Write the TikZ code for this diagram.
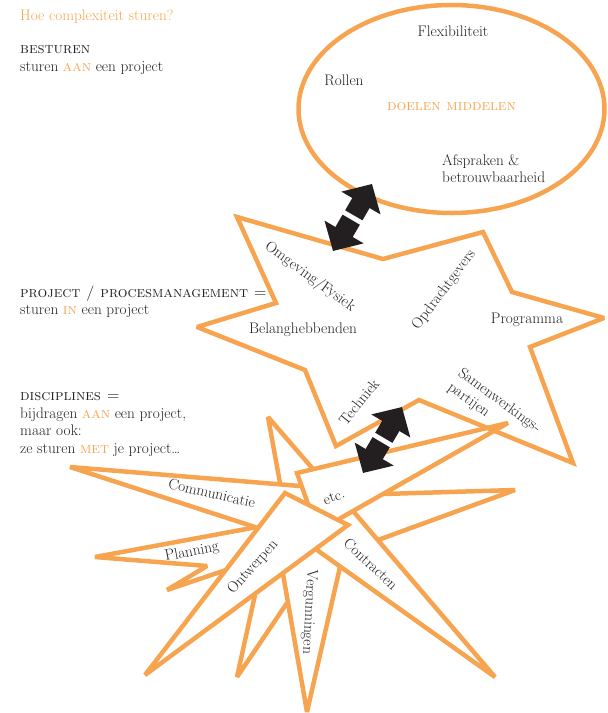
\documentclass[tikz,border=0pt]{standalone}
\usepackage{tikz}
\usetikzlibrary{arrows.meta}
\definecolor{stuurOranje}{RGB}{247,164,80}
\definecolor{stuurZwart} {RGB}{35,31,32}

\tikzset{
  lijn/.style={draw=stuurOranje,line width=4.5pt,line join=miter,miter limit=3},
  tekst/.style={text=stuurZwart,inner sep=0pt,font=\fontsize{15.3}{17.4}\selectfont},
  pijl/.style={draw=stuurZwart,line width=20pt,-{Triangle[width=44pt,length=22pt]}},
}
\newcommand{\oranje}[1]{\textcolor{stuurOranje}{\textsc{#1}}}

\begin{document}
\begin{tikzpicture}[x=1pt,y=-1pt]
  \useasboundingbox (0,0) rectangle (608,713);

  % linker kolom
  \node[tekst,text=stuurOranje,anchor=base west] (titel) at (20,20) {Hoe complexiteit sturen?};
  \node[tekst,anchor=base west] (besturen) at (20,53) {\textsc{besturen}};
  \node[tekst,anchor=base west] (besturenA) at (20,71) {sturen \oranje{aan} een project};
  \node[tekst,anchor=base west] (procesm) at (20,297) {\textsc{project / procesmanagement =}};
  \node[tekst,anchor=base west] (procesmA) at (20,314.5) {sturen \oranje{in} een project};
  \node[tekst,anchor=base west] (discipl) at (20,400.5) {\textsc{disciplines =}};
  \node[tekst,anchor=base west] (disciplA) at (20,418) {bijdragen \oranje{aan} een project,};
  \node[tekst,anchor=base west] (disciplB) at (20,435.5) {maar ook:};
  \node[tekst,anchor=base west] (disciplC) at (20,453) {ze sturen \oranje{met} je project\ldots};

  % ellips
  \draw[lijn] (451.5,109) ellipse [x radius=153, y radius=104];
  \node[tekst] (flex) at (453,31) {Flexibiliteit};
  \node[tekst] (rollen) at (344,80) {Rollen};
  \node[tekst,text=stuurOranje] (doelen) at (451.5,107) {\textsc{doelen middelen}};
  \node[tekst,anchor=base west] (afspr) at (442,165) {Afspraken \&};
  \node[tekst,anchor=base west] (betrouw) at (442,182) {betrouwbaarheid};

  % ster projectmanagement
  \draw[lijn] (237,217) -- (383,259) -- (483,232) -- (512,292) -- (604,318)
    -- (530,347) -- (573,463) -- (419,400) -- (336,446) -- (305,370)
    -- (197,327) -- (276,303) -- cycle;
  \node[tekst,rotate=-36] (omgeving) at (310,277) {Omgeving/Fysiek};
  \node[tekst] (belang) at (303,330) {Belanghebbenden};
  \node[tekst,rotate=53] (opdracht) at (444,290) {Opdrachtgevers};
  \node[tekst] (programma) at (527,320) {Programma};
  \node[tekst,rotate=51] (techniek) at (359,402) {Techniek};
  \node[tekst,rotate=-36,align=left] (samenw) at (494,408) {Samenwerkings-\\partijen};

  % ster disciplines
  \draw[lijn] (300,486) -- (70,467) -- (255,527);
  \draw[lijn] (280,483) -- (268,417) -- (313,469);
  \draw[lijn] (308,504) -- (297,473) -- (508,423) -- (339,519);
  \draw[lijn] (383,494) -- (515,490) -- (378,540);
  \draw[lijn] (353,511) -- (495,677) -- (317,550);
  \draw[lijn] (145,675) -- (285,493) -- (348,525) -- cycle;
  \draw[lijn] (257,527) -- (95,557) -- (207,566) -- (167,590) -- (226,570);
  \draw[lijn] (255,595) -- (237,677) -- (287,603);
  \draw[lijn] (283,574) -- (307,712) -- (340,567);
  \node[tekst,rotate=-13] (commu) at (212,493) {Communicatie};
  \node[tekst,rotate=11] (planning) at (192,552) {Planning};
  \node[tekst,rotate=48] (ontwerpen) at (253,567) {Ontwerpen};
  \node[tekst,rotate=-93] (vergun) at (309,612) {Vergunningen};
  \node[tekst,rotate=-43.5] (contract) at (371,564) {Contracten};
  \node[tekst,rotate=20] (etc) at (334,497) {etc.};

  % pijlen
  \coordinate (bovenA) at (353.8,215.3);
  \coordinate (bovenB) at (372,184);
  \coordinate (bovenC) at (351.2,219.7);
  \coordinate (bovenD) at (333,251);
  \draw[pijl] (bovenA) -- (bovenB);
  \draw[pijl] (bovenC) -- (bovenD);
  \coordinate (onderA) at (383.8,437.8);
  \coordinate (onderB) at (402,407);
  \coordinate (onderC) at (381.2,442.2);
  \coordinate (onderD) at (363,473);
  \draw[pijl] (onderA) -- (onderB);
  \draw[pijl] (onderC) -- (onderD);
\end{tikzpicture}
\end{document}
